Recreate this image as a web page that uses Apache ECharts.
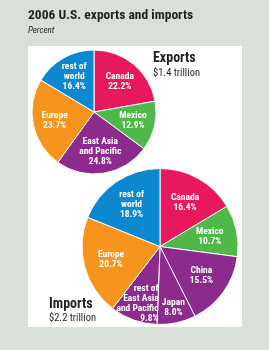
<!DOCTYPE html>
<html><head><meta charset="utf-8">
<script src="https://cdn.jsdelivr.net/npm/echarts@6/dist/echarts.min.js"></script>
<style>html,body{margin:0;padding:0;background:#d9e0da;}#c{width:269px;height:350px;}</style>
</head><body><div id="c"></div>
<script>
const exportCategories = ['Canada', 'Mexico', 'East Asia\nand Pacific', 'Europe', 'rest of\nworld'];
const exportValues = [22.2, 12.9, 24.8, 23.7, 16.4];
const importCategories = ['Canada', 'Mexico', 'China', 'Japan', 'rest of\nEast Asia\nand Pacific', 'Europe', 'rest of\nworld'];
const importValues = [16.4, 10.7, 15.5, 8.0, 9.8, 20.7, 18.9];
const regionColors = {Canada:'#e8185c', Mexico:'#4fb848', 'East Asia\nand Pacific':'#8c2a8e', China:'#8c2a8e', Japan:'#8c2a8e', 'rest of\nEast Asia\nand Pacific':'#8c2a8e', Europe:'#f7941e', 'rest of\nworld':'#0b88cf'};

const FONT = '"Liberation Sans Narrow","Arial Narrow","Roboto Condensed",Roboto,sans-serif';
const chart = echarts.init(document.getElementById('c'), null, {renderer:'canvas'});

// layout / style settings
const pieCenters = [[94,112],[160,246.5]];
const pieRadii = [62, 78];
const labelRadial = [1.18, 1.21];
const labelTweaks = [{}, {'Japan':{k:1.5}, 'rest of\nEast Asia\nand Pacific':{k:1.44, dx:-2, align:'right'}}];

function mk(cats, vals, si){
  return cats.map((c,i)=>{
    const tw = labelTweaks[si][c] || {};
    const item = {name:c, value:vals[i], itemStyle:{color:regionColors[c]}};
    if (tw.align === 'right') {
      item.label = {formatter: p => (p.name + '\n' + p.value.toFixed(1) + '%').split('\n').map(s => '{r|' + s + '}').join('\n'),
                    rich:{r:{align:'right', color:'#fff', fontFamily:FONT, fontWeight:'bold', fontSize:9.5, lineHeight:10}}};
    }
    return item;
  });
}
const lbl = {
  show:true, position:'inside', color:'#fff', fontFamily:FONT, fontWeight:'bold', fontSize:9.5, lineHeight:10,
  formatter: p => p.name + '\n' + p.value.toFixed(1) + '%'
};
const ttl = (text, sub, left, top, gap) => ({text, subtext:sub, left, top, padding:0, itemGap:gap,
  textStyle:{fontFamily:FONT, fontWeight:'bold', fontSize:14, color:'#231f20'},
  subtextStyle:{fontFamily:FONT, fontSize:10.5, color:'#231f20'}});
chart.setOption({
  backgroundColor:'#d9e0da',
  animation:false,
  title:[
    {text:'2006 U.S. exports and imports', left:28, top:9, padding:0, textStyle:{fontFamily:FONT, fontWeight:'bold', fontSize:13.5, color:'#231f20'}},
    {text:'Percent', left:28, top:26, padding:0, textStyle:{fontFamily:FONT, fontStyle:'italic', fontWeight:'normal', fontSize:9, color:'#231f20'}},
    ttl('Exports', '$1.4 trillion', 153, 51, 3),
    ttl('Imports', '$2.2 trillion', 49, 297.5, 1.5)
  ],
  graphic:[{type:'rect', z:-10, shape:{x:28, y:46, width:214, height:281}, style:{fill:'#ffffff'}}],
  series:[0,1].map(si => ({
     type:'pie', center:pieCenters[si], radius:[0, pieRadii[si]], startAngle:90, clockwise:true,
     avoidLabelOverlap:false,
     itemStyle:{borderColor:'#fff', borderWidth:1}, label:lbl, labelLine:{show:false},
     labelLayout: p => {
       const r = p.labelRect, c = pieCenters[p.seriesIndex];
       const names = p.seriesIndex === 0 ? exportCategories : importCategories;
       const tw = labelTweaks[p.seriesIndex][names[p.dataIndex]] || {};
       const k = tw.k || labelRadial[p.seriesIndex];
       const cx = r.x + r.width/2, cy = r.y + r.height/2;
       const x = c[0] + (cx-c[0])*k + (tw.dx||0), y = c[1] + (cy-c[1])*k;
       return {x, y, align:'center', verticalAlign:'middle', hideOverlap:false};
     },
     data: si===0 ? mk(exportCategories, exportValues, 0) : mk(importCategories, importValues, 1)
  }))
});
</script></body></html>
